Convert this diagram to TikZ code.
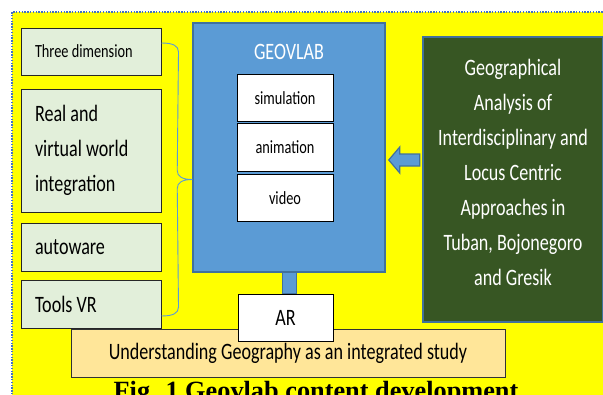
\documentclass[tikz,border=0pt]{standalone}
\usepackage{fontspec}
\setmainfont{Liberation Serif}
\newfontfamily\boxfont[FakeStretch=0.77]{Carlito}
\usepackage{tikz}
\usetikzlibrary{positioning, calc}

\definecolor{bgyellow}{HTML}{FFFF00}
\definecolor{itemgreen}{HTML}{E2EFDA}
\definecolor{labblue}{HTML}{5B9BD5}
\definecolor{labedge}{HTML}{41719C}
\definecolor{basecream}{HTML}{FFE699}
\definecolor{sourcegreen}{HTML}{375623}
\definecolor{dotblue}{HTML}{4472C4}

\tikzset{
  bigtext/.style={font=\boxfont\fontsize{23.5}{35}\selectfont},
  smalltext/.style={font=\boxfont\fontsize{18.6}{24}\selectfont},
  itembox/.style={draw=black!85, fill=itemgreen, line width=1pt, text width=112pt,
    inner xsep=14pt, inner ysep=0pt, align=flush left, minimum height=48pt, bigtext},
  labbox/.style={draw=labedge, fill=labblue, line width=1.5pt},
  mediabox/.style={draw=black, fill=white, line width=1pt, minimum width=96pt,
    minimum height=47.5pt, inner sep=0pt, smalltext},
  arbox/.style={draw=black, fill=white, line width=1pt, minimum width=95pt,
    minimum height=47pt, inner sep=0pt, bigtext},
  basebox/.style={draw=black!80, fill=basecream, line width=1pt, minimum width=434pt,
    minimum height=48pt, inner sep=0pt, bigtext},
  sourcebox/.style={draw=labedge, fill=sourcegreen, line width=2pt},
  stem/.style={draw=labedge, fill=labblue, line width=1pt},
  bracestyle/.style={draw=labblue, line width=0.9pt},
}

\begin{document}
\begin{tikzpicture}[x=1pt, y=-1pt]
\useasboundingbox (0,0) rectangle (603,394);
\clip (0,0) rectangle (603,394);

% page background
\fill[bgyellow] (12,12) rectangle (610,400);
\draw[dotblue, line width=1.6pt, dash pattern=on 1.4pt off 1.4pt] (12,400) -- (12,12) -- (610,12);

% features on the left
\node[itembox, smalltext, minimum height=47pt] (dim) at (91,51.5) {Three dimension};
\node[itembox, minimum height=123pt, below=13pt of dim] (real) {Real and\\virtual world\\integration};
\node[itembox, below=10pt of real] (autoware) {autoware};
\node[itembox, below=8pt of autoware] (tools) {Tools VR};

% GEOVLAB block
\node[labbox, minimum width=192pt, minimum height=249pt] (geovlab) at (289,147.5) {};
\node[bigtext, text=white] (geotitle) at ([yshift=-30pt]geovlab.north) {GEOVLAB};
\node[mediabox] (sim) at (285,98) {simulation};
\node[mediabox, below=1pt of sim] (anim) {animation};
\node[mediabox, below=2pt of anim] (video) {video};

% study area
\node[sourcebox, minimum width=180pt, minimum height=285pt] (source) at (513,179.5) {};
\node[bigtext, text=white, align=center] (sourcetext) at ([yshift=7pt]source.center)
  {Geographical\\Analysis of\\Interdisciplinary and\\Locus Centric\\Approaches in\\Tuban, Bojonegoro\\and Gresik};

% bottom
\node[basebox] (base) at (288,353) {Understanding Geography as an integrated study};
\node[arbox] (ar) at (285.5,317.5) {AR};
\path[stem] ([xshift=-7pt]geovlab.south) rectangle ([xshift=7pt]geovlab.south |- ar.north);

% brace
\coordinate (btop) at ([yshift=8.5pt]dim.east);
\coordinate (bbot) at ([yshift=-12pt]tools.east);
\coordinate (bmid) at ($(btop)!.5!(bbot)$);
\coordinate (btip) at (geovlab.west |- bmid);
\draw[bracestyle] (btop) .. controls +(12,0) and +(0,-6) .. ++(17,9)
  -- ([xshift=-15pt,yshift=9pt]btip)
  .. controls +(0,6) and +(-10,0) .. (btip)
  .. controls +(-10,0) and +(0,-6) .. ([xshift=-15pt,yshift=-9pt]btip)
  -- ([xshift=17pt,yshift=9pt]bbot)
  .. controls +(0,6) and +(12,0) .. (bbot);

% arrow
\coordinate (atip) at ([xshift=3pt,yshift=-12.5pt]geovlab.east);
\path[stem, line width=1.2pt] (atip) -- ++(11,-13) -- ++(0,7) -- ++(20,0) -- ++(0,12)
  -- ++(-20,0) -- ++(0,7) -- cycle;

\node[font=\fontsize{26.3}{30}\selectfont\bfseries, anchor=base] (caption) at (316,399)
  {Fig. 1 Geovlab content development};
\end{tikzpicture}
\end{document}
